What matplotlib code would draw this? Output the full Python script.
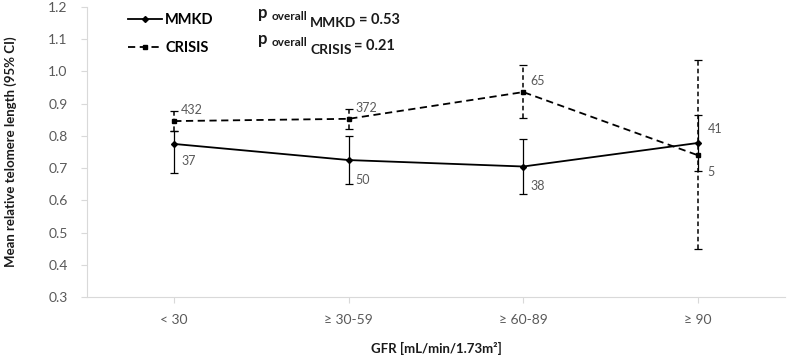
import numpy as np
import matplotlib.pyplot as plt

plt.rcParams['font.family'] = ['Lato', 'DejaVu Sans']

# data
categories = ['< 30', '≥ 30-59', '≥ 60-89', '≥ 90']

mmkd_mean = [0.775, 0.725, 0.705, 0.778]
mmkd_low = [0.685, 0.650, 0.620, 0.690]
mmkd_high = [0.815, 0.800, 0.790, 0.865]
mmkd_n = ['37', '50', '38', '41']

crisis_mean = [0.846, 0.853, 0.936, 0.740]
crisis_low = [0.815, 0.820, 0.855, 0.448]
crisis_high = [0.878, 0.885, 1.020, 1.035]
crisis_n = ['432', '372', '65', '5']

p_groups = ['MMKD', 'CRISIS']
p_values = ['0.53', '0.21']

grey = '#595959'
axis_grey = '#d9d9d9'
dark = '#1a1a1a'

fig = plt.figure(figsize=(7.87, 3.58), dpi=100)
ax = fig.add_axes([0.1105, 0.1704, 0.887, 0.81])

x = np.arange(len(categories))

# MMKD - solid
yerr_m = [np.array(mmkd_mean) - np.array(mmkd_low), np.array(mmkd_high) - np.array(mmkd_mean)]
ax.errorbar(x, mmkd_mean, yerr=yerr_m, fmt='none', ecolor='black', elinewidth=0.9,
            capsize=3, capthick=0.9, zorder=2)
ax.plot(x, mmkd_mean, color='black', lw=1.3, marker='D', ms=3, label='MMKD', zorder=3)

# CRISIS - dashed
yerr_c = [np.array(crisis_mean) - np.array(crisis_low), np.array(crisis_high) - np.array(crisis_mean)]
eb = ax.errorbar(x, crisis_mean, yerr=yerr_c, fmt='none', ecolor='black', elinewidth=1.1,
                 capsize=3, capthick=0.9, zorder=2)
eb[2][0].set_linestyle((0, (3, 2)))
ax.plot(x, crisis_mean, color='black', lw=1.3, ls=(0, (4, 2.5)), marker='s', ms=3.5,
        label='CRISIS', zorder=3)

# n labels
m_off = [(5, -12), (5, -14), (5, -14), (7, 10)]
c_off = [(5, 8), (5, 8), (5, 8), (7, -12)]
for i in range(len(categories)):
    ax.annotate(mmkd_n[i], (x[i], mmkd_mean[i]), xytext=m_off[i], textcoords='offset points',
                fontsize=9, color=grey, va='center', ha='left')
    ax.annotate(crisis_n[i], (x[i], crisis_mean[i]), xytext=c_off[i], textcoords='offset points',
                fontsize=9, color=grey, va='center', ha='left')

ax.set_xlim(-0.5, 3.5)
ax.set_ylim(0.3, 1.2)
ax.set_yticks(np.arange(0.3, 1.21, 0.1))
ax.set_yticklabels([f'{v:.1f}' for v in np.arange(0.3, 1.21, 0.1)])
ax.set_xticks(x)
ax.set_xticklabels(categories)
ax.tick_params(axis='both', colors=axis_grey, labelcolor=grey, labelsize=10, length=4)
ax.tick_params(axis='x', pad=8)
ax.tick_params(axis='y', pad=10)
for s in ['top', 'right']:
    ax.spines[s].set_visible(False)
for s in ['left', 'bottom']:
    ax.spines[s].set_color(axis_grey)

ax.set_ylabel('Mean relative telomere length (95% CI)', fontsize=9.5, fontweight='bold',
              color=dark, labelpad=22)
ax.set_xlabel('GFR [mL/min/1.73m²]', fontsize=9.5, fontweight='bold', color=dark,
              labelpad=12)

ax.legend(loc='upper left', bbox_to_anchor=(0.04, 1.025), frameon=False,
          handlelength=2.3, handletextpad=0.25, labelspacing=0.95,
          prop={'weight': 'bold', 'size': 10.5})

# p-value annotations, pieces chained one after the other
for row, (grp, pval) in enumerate(zip(p_groups, p_values)):
    yy = 1.166 - row * 0.082
    t = ax.text(0.48, yy, 'p', fontsize=12, fontweight='bold', color=dark, va='baseline')
    t = ax.annotate('overall', xy=(1, 0), xycoords=t, xytext=(3, 1), textcoords='offset points',
                    fontsize=8.5, fontweight='bold', color=dark, va='baseline')
    t = ax.annotate(grp, xy=(1, 0), xycoords=t, xytext=(2, -4), textcoords='offset points',
                    fontsize=10, fontweight='bold', color=dark, va='baseline')
    ax.annotate(f'= {pval}', xy=(1, 0), xycoords=t, xytext=(2, 4), textcoords='offset points',
                fontsize=10.5, fontweight='bold', color=dark, va='baseline')

fig.savefig('out.png', dpi=100)
